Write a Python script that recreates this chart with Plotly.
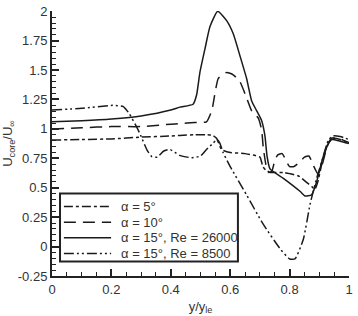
import plotly.graph_objects as go

# alpha = 5 deg (dash-dot)
x_a5 = [0, 0.1, 0.2, 0.3, 0.4, 0.43, 0.48, 0.52, 0.54, 0.554, 0.571, 0.6, 0.65, 0.70, 0.71, 0.72, 0.735,
        0.78, 0.80, 0.83, 0.855, 0.875, 0.885, 0.895, 0.91, 0.93, 0.945, 0.97, 1.0]
y_a5 = [0.905, 0.91, 0.915, 0.93, 0.94, 0.945, 0.95, 0.95, 0.945, 0.92, 0.825, 0.80, 0.79, 0.76, 0.68, 0.65, 0.63,
        0.63, 0.62, 0.60, 0.55, 0.51, 0.485, 0.55, 0.72, 0.88, 0.92, 0.91, 0.87]

# alpha = 10 deg (dashed)
x_a10 = [0, 0.1, 0.2, 0.3, 0.4, 0.43, 0.48, 0.52, 0.538, 0.55, 0.56, 0.588, 0.61, 0.633, 0.655, 0.672, 0.695,
         0.706, 0.711, 0.72, 0.73, 0.74, 0.75, 0.76, 0.775, 0.79, 0.80, 0.815, 0.835, 0.85, 0.865, 0.88,
         0.895, 0.91, 0.925, 0.94, 0.96, 0.98, 1.0]
y_a10 = [1.0, 1.01, 1.02, 1.02, 1.04, 1.045, 1.055, 1.06, 1.155, 1.32, 1.43, 1.48, 1.46, 1.40, 1.265, 1.155, 1.09,
         0.99, 0.85, 0.70, 0.63, 0.64, 0.73, 0.78, 0.79, 0.72, 0.68, 0.68, 0.72, 0.76, 0.77, 0.69,
         0.62, 0.70, 0.84, 0.92, 0.925, 0.905, 0.885]

# alpha = 15 deg, Re = 26000 (solid)
x_a15 = [0, 0.1, 0.2, 0.3, 0.4, 0.43, 0.475, 0.487, 0.498, 0.515, 0.532, 0.558, 0.588, 0.61, 0.633, 0.655,
         0.672, 0.689, 0.706, 0.717, 0.724, 0.734, 0.779, 0.835, 0.852, 0.874, 0.891, 0.908, 0.925, 0.942,
         0.97, 1.0]
y_a15 = [1.06, 1.07, 1.085, 1.11, 1.16, 1.185, 1.21, 1.29, 1.48, 1.68, 1.87, 2.0, 1.92, 1.81, 1.62, 1.43,
         1.24, 1.155, 1.07, 0.94, 0.77, 0.66, 0.58, 0.47, 0.43, 0.44, 0.55, 0.72, 0.85, 0.91,
         0.895, 0.875]

# alpha = 15 deg, Re = 8500 (dash-dot-dot)
x_re = [0, 0.1, 0.205, 0.24, 0.26, 0.28, 0.296, 0.32, 0.336, 0.355, 0.375, 0.397, 0.43, 0.47, 0.50, 0.52,
        0.543, 0.555, 0.565, 0.576, 0.60, 0.655, 0.71, 0.77, 0.80, 0.818, 0.846, 0.869, 0.891, 0.908,
        0.93, 0.945, 0.97, 1.0]
y_re = [1.16, 1.175, 1.20, 1.19, 1.13, 1.04, 0.96, 0.82, 0.765, 0.76, 0.81, 0.825, 0.775, 0.755, 0.77, 0.825,
        0.88, 0.91, 0.88, 0.80, 0.68, 0.44, 0.195, -0.025, -0.105, -0.105, 0.06, 0.36, 0.58, 0.72,
        0.90, 0.94, 0.935, 0.91]

legend_names = ["α = 5°", "α = 10°", "α = 15°, Re = 26000", "α = 15°, Re = 8500"]
y_tickvals = [-0.25, 0, 0.25, 0.5, 0.75, 1, 1.25, 1.5, 1.75, 2]
y_ticktext = ["-0.25", "0", "0.25", "0.5", "0.75", "1", "1.25", "1.5", "1.75", "2"]
x_tickvals = [0, 0.2, 0.4, 0.6, 0.8, 1]
x_ticktext = ["0", "0.2", "0.4", "0.6", "0.8", "1"]

LC = "#1a1a1a"
FONT = "Liberation Sans, Arial, sans-serif"
DASHES = ["dashdot", "12px,7px", "solid", "10px,3px,2px,3px,2px,3px"]

fig = go.Figure()
series = [(x_a5, y_a5), (x_a10, y_a10), (x_a15, y_a15), (x_re, y_re)]
for (xs, ys), name, dash in zip(series, legend_names, DASHES):
    fig.add_trace(go.Scatter(x=xs, y=ys, mode="lines", name=name, showlegend=False,
                             line=dict(color=LC, width=1.5, dash=dash, shape="spline", smoothing=0.5)))

# legend box drawn in paper coordinates (plot-area fractions)
box = dict(x0=0.027, x1=0.626, y0=0.055, y1=0.311)
fig.add_shape(type="rect", xref="paper", yref="paper", layer="above",
              x0=box["x0"], x1=box["x1"], y0=box["y0"], y1=box["y1"],
              line=dict(color="#222", width=2), fillcolor="white")
row_y = [0.262, 0.203, 0.144, 0.085]
for name, dash, ry in zip(legend_names, DASHES, row_y):
    fig.add_shape(type="line", xref="paper", yref="paper", layer="above",
                  x0=0.040, x1=0.199, y0=ry, y1=ry, line=dict(color=LC, width=1.5, dash=dash))
    fig.add_annotation(xref="paper", yref="paper", x=0.226, y=ry, xanchor="left", yanchor="middle",
                       text=name, showarrow=False, font=dict(family=FONT, size=13, color="#333"))

axis_common = dict(showline=True, linecolor="#222", linewidth=2, ticks="inside", tickcolor="#222",
                   tickwidth=1.5, ticklen=7, showgrid=False, zeroline=False, ticklabeloverflow="allow",
                   tickfont=dict(family=FONT, size=13, color="#333"))

fig.update_layout(
    width=358, height=316,
    margin=dict(l=52, r=9, t=4, b=39),
    paper_bgcolor="white", plot_bgcolor="white",
    font=dict(family=FONT, size=13, color="#333"),
    showlegend=False,
    xaxis=dict(range=[0, 1], tickvals=x_tickvals, ticktext=x_ticktext,
               minor=dict(ticks="inside", dtick=0.05, ticklen=4, tickcolor="#222", tickwidth=1),
               title=dict(text="y/y<sub>le</sub>", font=dict(family=FONT, size=13, color="#333"), standoff=6),
               **axis_common),
    yaxis=dict(range=[-0.25, 2.002], tickvals=y_tickvals, ticktext=y_ticktext,
               minor=dict(ticks="inside", dtick=0.05, ticklen=4, tickcolor="#222", tickwidth=1),
               title=dict(text="U<sub>core</sub>/U<sub>∞</sub>", font=dict(family=FONT, size=13, color="#333"), standoff=4),
               **axis_common),
)

fig.write_html("out.html")
